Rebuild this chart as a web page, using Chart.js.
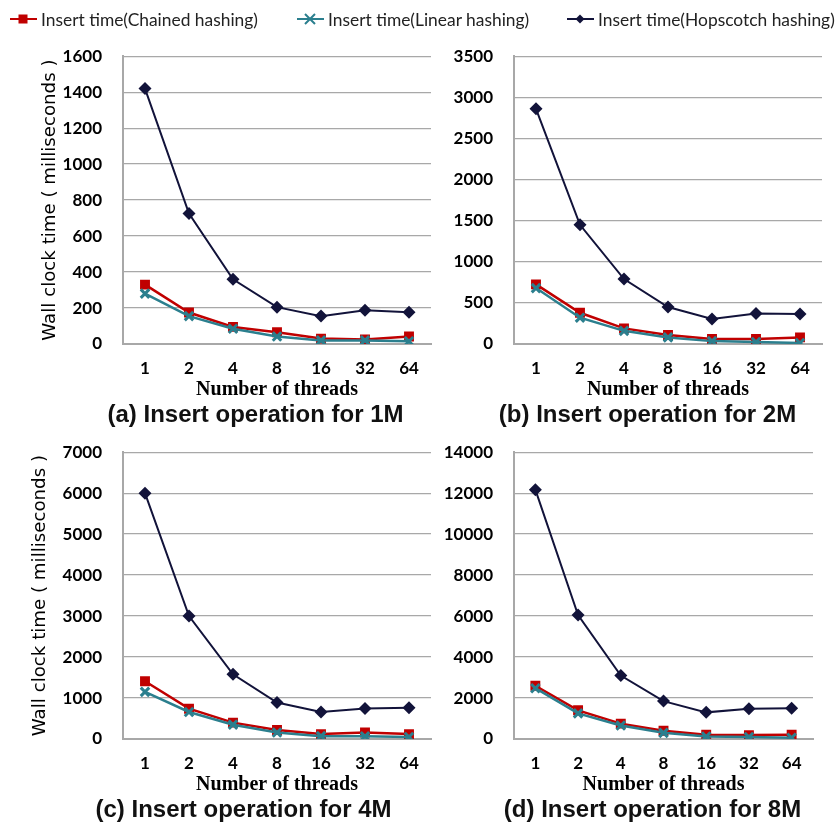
<!DOCTYPE html>
<html>
<head>
<meta charset="utf-8">
<script src="https://cdn.jsdelivr.net/npm/chart.js@4.4.1/dist/chart.umd.min.js"></script>
<style>
  body { margin:0; background:#fff; width:838px; height:825px; position:relative; overflow:hidden; }
  canvas { position:absolute; }
  .leg { position:absolute; top:10px; height:18px; display:flex; align-items:center; font:17.4px Lato, sans-serif; color:#222; white-space:nowrap; z-index:2; }
  .leg svg { margin-right:4px; }
</style>
</head>
<body>
<div id="legend"></div>
<canvas id="c1" width="440" height="405" style="left:0;top:25px"></canvas>
<canvas id="c2" width="411" height="405" style="left:420px;top:25px"></canvas>
<canvas id="c3" width="440" height="404" style="left:0;top:421px"></canvas>
<canvas id="c4" width="402" height="404" style="left:420px;top:421px"></canvas>
<script>
var threads = ['1','2','4','8','16','32','64'];
var seriesNames = ['Insert time(Chained hashing)','Insert time(Linear hashing)','Insert time(Hopscotch hashing)'];

var chained1M = [330,175,95,65,30,25,42];
var linear1M  = [280,155,85,42,20,20,15];
var hop1M     = [1420,725,360,205,155,187,177];

var chained2M = [725,380,190,110,60,60,80];
var linear2M  = [680,320,160,80,35,25,12];
var hop2M     = [2860,1450,790,450,305,372,365];

var chained4M = [1410,740,400,220,120,160,120];
var linear4M  = [1150,660,350,160,70,65,50];
var hop4M     = [6000,3000,1580,890,660,745,760];

var chained8M = [2600,1400,750,400,210,190,210];
var linear8M  = [2480,1250,660,300,120,100,60];
var hop8M     = [12170,6050,3100,1850,1300,1480,1500];

var captions = ['(a) Insert operation for 1M','(b) Insert operation for 2M','(c) Insert operation for 4M','(d) Insert operation for 8M'];
var yTitle = 'Wall clock time ( milliseconds )';
var xTitle = 'Number of threads';

var RED = '#c00000', TEAL = '#2b7f8e', NAVY = '#12133a';

// legend (html)
var legPos = [10, 297, 567];
var legColors = [RED, TEAL, NAVY];
var shapes = [
  '<rect x="8.5" y="2.5" width="9" height="9" fill="'+RED+'"/>',
  '<path d="M8 2 L18 12 M18 2 L8 12" stroke="'+TEAL+'" stroke-width="2"/>',
  '<path d="M13 2.5 L17.5 7 L13 11.5 L8.5 7 Z" fill="'+NAVY+'"/>'
];
var legHtml = '';
for (var i = 0; i < 3; i++) {
  legHtml += '<div class="leg" style="left:'+legPos[i]+'px"><svg width="27" height="14">' +
    '<line x1="0" y1="7" x2="27" y2="7" stroke="'+legColors[i]+'" stroke-width="2"/>' + shapes[i] +
    '</svg><span>'+seriesNames[i]+'</span></div>';
}
document.getElementById('legend').innerHTML = legHtml;

var captionPlugin = {
  id: 'caption',
  afterDraw: function(chart, args, opts) {
    var ctx = chart.ctx, a = chart.chartArea;
    ctx.save();
    ctx.font = 'bold 24px "Liberation Sans"';
    ctx.fillStyle = '#111';
    ctx.textAlign = 'center';
    ctx.textBaseline = 'middle';
    ctx.fillText(opts.text, (a.left + a.right) / 2 + opts.dx, a.bottom + 71);
    ctx.restore();
  }
};

function panel(id, chained, linear, hop, yMax, step, yW, titlePad, capText, capDx) {
  var ctx = document.getElementById(id).getContext('2d');
  new Chart(ctx, {
    type: 'line',
    data: {
      labels: threads,
      datasets: [
        { label: seriesNames[0], data: chained, borderColor: RED, backgroundColor: RED, borderWidth: 2.5,
          pointStyle: 'rect', pointRadius: 7, pointBorderWidth: 0, order: 2 },
        { label: seriesNames[1], data: linear, borderColor: TEAL, backgroundColor: TEAL, borderWidth: 2.5,
          pointStyle: 'crossRot', pointRadius: 6, pointBorderWidth: 3, order: 1 },
        { label: seriesNames[2], data: hop, borderColor: NAVY, backgroundColor: NAVY, borderWidth: 2,
          pointStyle: 'rectRot', pointRadius: 6.5, pointBorderWidth: 0, order: 3 }
      ]
    },
    options: {
      responsive: false,
      animation: false,
      devicePixelRatio: 1,
      layout: { padding: { top: 0, right: 8, bottom: 28, left: 0 } },
      plugins: {
        legend: { display: false },
        tooltip: { enabled: false },
        caption: { text: capText, dx: capDx }
      },
      scales: {
        x: {
          offset: true,
          grid: { display: false, drawTicks: false },
          border: { display: true, color: '#a8a8a8', width: 2 },
          ticks: { color: '#000', padding: 14, font: { family: 'Lato', weight: 'bold', size: 17 } },
          title: { display: true, text: xTitle, color: '#000', padding: 0,
                   font: { family: '"Liberation Serif"', weight: 'bold', size: 20 } },
          afterFit: function(s) { s.height = 58; }
        },
        y: {
          min: 0, max: yMax,
          grid: { color: '#a8a8a8', lineWidth: 1.3, drawTicks: false },
          border: { display: true, color: '#a8a8a8', width: 2 },
          ticks: { stepSize: step, color: '#000', padding: 21, font: { family: 'Lato', weight: 'bold', size: 17 },
                   callback: function(v) { return String(v); } },
          title: { display: titlePad !== null, text: yTitle, color: '#000', padding: { top: titlePad || 0, bottom: 0 },
                   font: { family: '"DejaVu Sans"', size: 18.2 } },
          afterFit: function(s) { s.width = yW; }
        }
      }
    },
    plugins: [captionPlugin]
  });
}

panel('c1', chained1M, linear1M, hop1M, 1600, 200, 123, 39.1, captions[0], -21.5);
panel('c2', chained2M, linear2M, hop2M, 3500, 500, 94, null, captions[1], -20.5);
panel('c3', chained4M, linear4M, hop4M, 7000, 1000, 123, 29.1, captions[2], -33.5);
panel('c4', chained8M, linear8M, hop8M, 14000, 2000, 94, null, captions[3], -11);
</script>
</body>
</html>
